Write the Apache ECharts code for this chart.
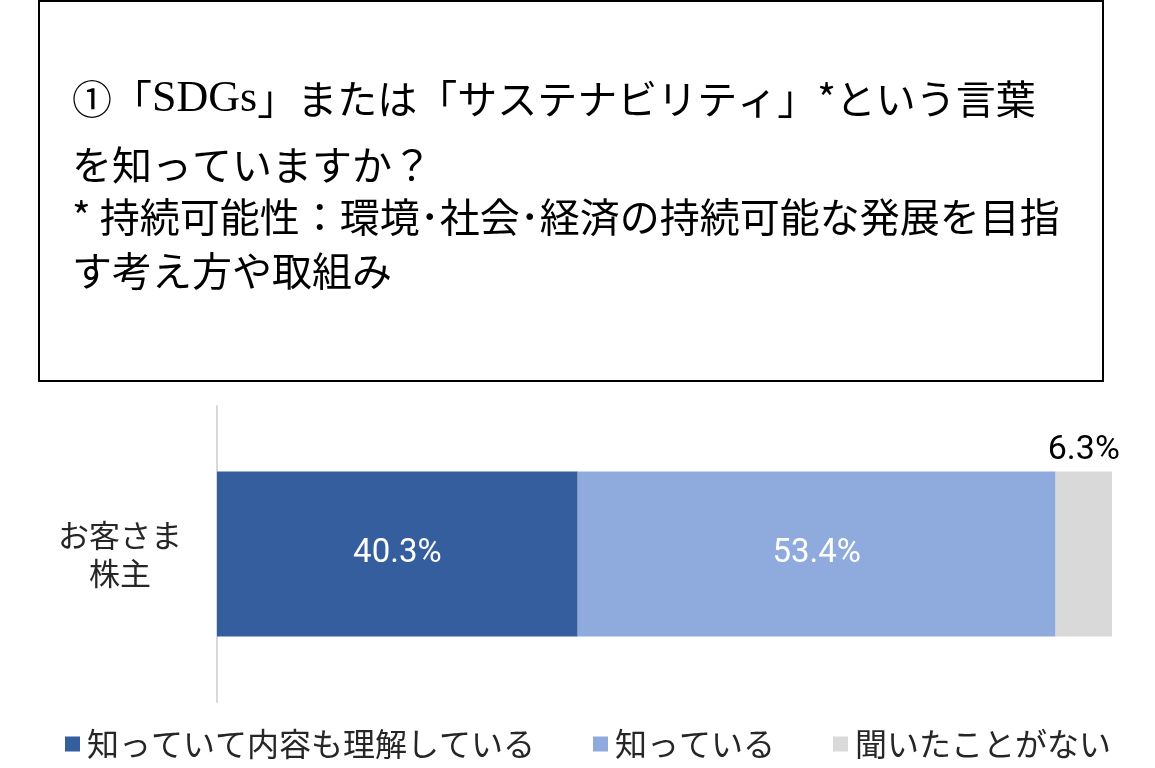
<!DOCTYPE html>
<html>
<head>
<meta charset="utf-8">
<script src="https://cdn.jsdelivr.net/npm/echarts@6/dist/echarts.min.js"></script>
<style>
  html, body { margin: 0; padding: 0; background: #ffffff; }
  #chart { width: 1155px; height: 768px; }
</style>
</head>
<body>
<div id="chart"></div>
<script>
// Survey: awareness of "SDGs" / "sustainability"
const categories = ['お客さま\n株主'];
const seriesNames = ['知っていて内容も理解している', '知っている', '聞いたことがない'];
const knowUnderstand = [40.3];
const knowOnly = [53.4];
const neverHeard = [6.3];

const titleLines = [
  '①「{serif|SDGs}」または「サステナビリティ」*という言葉',
  'を知っていますか？',
  '* 持続可能性：環境･社会･経済の持続可能な発展を目指',
  'す考え方や取組み'
];

const colors = ['#355E9F', '#8FAADC', '#D9D9D9'];
const jpFont = '"Noto Sans CJK JP", sans-serif';
const numFont = 'Roboto, "Noto Sans", sans-serif';

const chart = echarts.init(document.getElementById('chart'));

const titleY = [99, 167, 219, 273];
const titleGraphics = titleLines.map((line, i) => ({
  type: 'text',
  left: 72,
  top: titleY[i] - 22,
  z: 10,
  style: {
    text: line,
    fill: '#000000',
    font: '40px ' + jpFont,
    rich: {
      serif: { fontFamily: '"Liberation Serif", serif', fontSize: 44, fill: '#000000' }
    }
  }
}));

const option = {
  backgroundColor: '#ffffff',
  animation: false,
  graphic: [
    {
      type: 'rect',
      shape: { x: 39, y: 1, width: 1064, height: 380 },
      style: { fill: '#ffffff', stroke: '#000000', lineWidth: 2 },
      z: 5
    }
  ].concat(titleGraphics),
  legend: {
    left: 60,
    top: 723,
    itemWidth: 15,
    itemHeight: 15,
    itemGap: 58,
    icon: 'rect',
    data: seriesNames,
    textStyle: { fontFamily: jpFont, fontSize: 32, color: '#262626', padding: [0, 0, 0, 2] }
  },
  grid: { left: 217, right: 43, top: 406, bottom: 66 },
  xAxis: {
    type: 'value',
    min: 0,
    max: 100,
    show: false
  },
  yAxis: {
    type: 'category',
    data: categories,
    axisLine: { show: true, lineStyle: { color: '#D9D9D9', width: 2 } },
    axisTick: { show: false },
    axisLabel: {
      align: 'center',
      margin: 97,
      fontFamily: jpFont,
      fontSize: 31,
      lineHeight: 38,
      color: '#262626'
    }
  },
  series: [
    {
      name: seriesNames[0],
      type: 'bar',
      stack: 'total',
      data: knowUnderstand,
      barWidth: 165,
      itemStyle: { color: colors[0] },
      label: {
        show: true,
        position: 'inside',
        formatter: p => p.value.toFixed(1) + '%',
        color: '#ffffff',
        fontFamily: numFont,
        fontSize: 33
      }
    },
    {
      name: seriesNames[1],
      type: 'bar',
      stack: 'total',
      data: knowOnly,
      barWidth: 165,
      itemStyle: { color: colors[1] },
      label: {
        show: true,
        position: 'inside',
        formatter: p => p.value.toFixed(1) + '%',
        color: '#ffffff',
        fontFamily: numFont,
        fontSize: 33
      }
    },
    {
      name: seriesNames[2],
      type: 'bar',
      stack: 'total',
      data: neverHeard,
      barWidth: 165,
      itemStyle: { color: colors[2] },
      label: {
        show: true,
        position: 'top',
        distance: 4,
        formatter: p => p.value.toFixed(1) + '%',
        color: '#000000',
        fontFamily: numFont,
        fontSize: 34
      }
    }
  ]
};

chart.setOption(option);
</script>
</body>
</html>
